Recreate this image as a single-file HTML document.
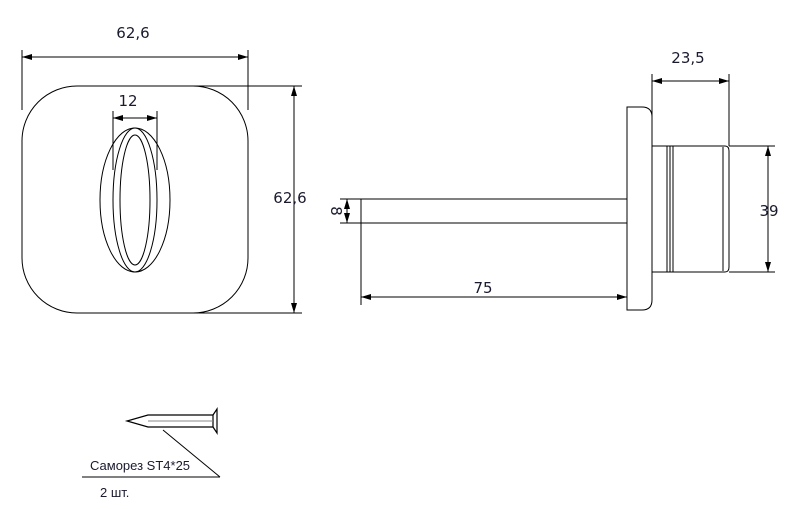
<!DOCTYPE html>
<html><head><meta charset="utf-8"><style>
html,body{margin:0;padding:0;background:#fff;}
svg{display:block;}
text{font-family:"DejaVu Sans","Liberation Sans",sans-serif;fill:#1a1a2e;}
</style></head><body>
<svg width="801" height="509" viewBox="0 0 801 509" xmlns="http://www.w3.org/2000/svg">
<defs>
<marker id="a" viewBox="0 0 10 6" refX="10" refY="3" markerWidth="10" markerHeight="6" orient="auto-start-reverse" markerUnits="userSpaceOnUse"><path d="M0,0 L10,3 L0,6 Z" fill="#000"/></marker>
</defs>
<g fill="none" stroke="#000" stroke-width="1">
<rect x="22" y="86" width="226" height="227" rx="55" ry="55"/>
<line x1="22" y1="50" x2="22" y2="110"/>
<line x1="248" y1="50" x2="248" y2="110"/>
<line x1="22" y1="57" x2="248" y2="57" marker-start="url(#a)" marker-end="url(#a)"/>
<line x1="190" y1="86" x2="302" y2="86"/>
<line x1="190" y1="313" x2="302" y2="313"/>
<line x1="294" y1="86" x2="294" y2="313" marker-start="url(#a)" marker-end="url(#a)"/>
<ellipse cx="135" cy="200" rx="35" ry="72"/>
<ellipse cx="135" cy="200" rx="22" ry="72"/>
<ellipse cx="135" cy="200" rx="15" ry="65"/>
<line x1="113" y1="111" x2="113" y2="170"/>
<line x1="157" y1="111" x2="157" y2="170"/>
<line x1="113" y1="118" x2="157" y2="118" marker-start="url(#a)" marker-end="url(#a)"/>
<rect x="361" y="199" width="266" height="24"/>
<line x1="340" y1="199" x2="361" y2="199"/>
<line x1="340" y1="223" x2="361" y2="223"/>
<line x1="347" y1="199" x2="347" y2="223" marker-start="url(#a)" marker-end="url(#a)"/>
<line x1="361" y1="223" x2="361" y2="305"/>
<line x1="361" y1="297" x2="627" y2="297" marker-start="url(#a)" marker-end="url(#a)"/>
<path d="M627,107 H642 Q652,107 652,117 V300 Q652,310 642,310 H627 Z"/>
<path d="M652,146 H725 Q729,146 729,151 V267 Q729,272 725,272 H652"/>
<line x1="667" y1="146" x2="667" y2="272"/>
<line x1="670" y1="146" x2="670" y2="272"/>
<line x1="673" y1="146" x2="673" y2="272"/>
<line x1="723" y1="147" x2="723" y2="271"/>
<line x1="729" y1="146" x2="775" y2="146"/>
<line x1="729" y1="272" x2="775" y2="272"/>
<line x1="768" y1="146" x2="768" y2="272" marker-start="url(#a)" marker-end="url(#a)"/>
<line x1="652" y1="74" x2="652" y2="146"/>
<line x1="729" y1="74" x2="729" y2="146"/>
<line x1="652" y1="81" x2="729" y2="81" marker-start="url(#a)" marker-end="url(#a)"/>
<path d="M127,421 L148,415 H213 V427 H148 Z" stroke-width="1.2"/>
<line x1="148" y1="421" x2="213" y2="421" stroke="#888"/>
<path d="M213,415 L217,409 V433 L213,427" stroke-width="1.2"/>
<line x1="163" y1="430" x2="220" y2="477"/>
<line x1="82" y1="477" x2="220" y2="477"/>
</g>
<text x="133" y="38" font-size="15" text-anchor="middle">62,6</text>
<text x="290" y="203" font-size="15" text-anchor="middle">62,6</text>
<text x="128" y="106" font-size="15" text-anchor="middle">12</text>
<text x="483" y="293" font-size="15" text-anchor="middle">75</text>
<text x="688" y="63" font-size="15" text-anchor="middle">23,5</text>
<text x="769" y="216" font-size="15" text-anchor="middle">39</text>
<text transform="translate(336,211) rotate(90)" font-size="15" text-anchor="middle" dominant-baseline="central">8</text>
<text x="90" y="470" font-size="13" style="font-family:'Liberation Sans',sans-serif">Саморез ST4*25</text>
<text x="100" y="497" font-size="13" style="font-family:'Liberation Sans',sans-serif">2 шт.</text>
</svg>
</body></html>
